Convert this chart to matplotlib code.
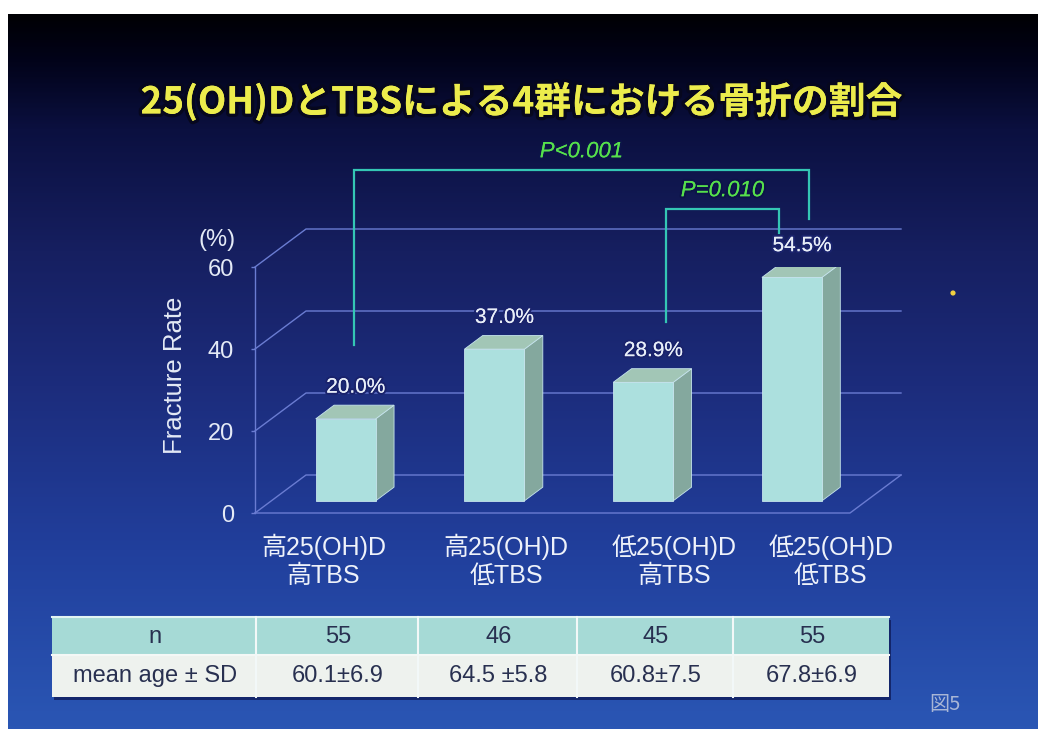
import numpy as np
import matplotlib
matplotlib.use("Agg")
import matplotlib.pyplot as plt
from matplotlib.patches import Polygon, Rectangle
from matplotlib.colors import LinearSegmentedColormap
import matplotlib.patheffects as pe
from matplotlib import font_manager

# ---- data -------------------------------------------------------------
title = "25(OH)DとTBSによる4群における骨折の割合"
groups_line1 = ["高25(OH)D", "高25(OH)D", "低25(OH)D", "低25(OH)D"]
groups_line2 = ["高TBS", "低TBS", "高TBS", "低TBS"]
fracture_rate = [20.0, 37.0, 28.9, 54.5]          # %
y_ticks = [0, 20, 40, 60]
n_subjects = [55, 46, 45, 55]
mean_age = ["60.1±6.9", "64.5 ±5.8", "60.8±7.5", "67.8±6.9"]
comparisons = [(0, 3, "P<0.001"), (2, 3, "P=0.010")]

# ---- fonts ------------------------------------------------------------
_names = {f.name for f in font_manager.fontManager.ttflist}
NARROW = "Liberation Sans Narrow" if "Liberation Sans Narrow" in _names else "Liberation Sans"
CJK = "Noto Sans CJK JP"
FAM = [NARROW, CJK, "DejaVu Sans"]
plt.rcParams["font.family"] = FAM

W_PX, H_PX = 1040, 729
fig = plt.figure(figsize=(W_PX / 100, H_PX / 100), dpi=100, facecolor="white")

# ---- slide background (pixel space) ---------------------------------
bg = fig.add_axes([0, 0, 1, 1])
bg.set_xlim(0, W_PX)
bg.set_ylim(H_PX, 0)
bg.axis("off")

stops = [(0.0, "#000004"), (0.064, "#02031a"), (0.16, "#0b1040"),
         (0.33, "#161f60"), (0.52, "#1c2c7c"), (0.75, "#213f9c"),
         (1.0, "#2a56b4")]
cmap = LinearSegmentedColormap.from_list("slide", stops)
grad = np.linspace(0, 1, 400).reshape(-1, 1)
bg.imshow(grad, cmap=cmap, aspect="auto", extent=(8, 1038, 729, 14),
          origin="upper", zorder=0, interpolation="bilinear")

bg.text(521, 102, title, ha="center", va="center", fontsize=26.5,
        fontweight="bold", color="#ecec4c", family=[CJK, "DejaVu Sans"],
        path_effects=[pe.withStroke(linewidth=5, foreground="#06071e"),
                      pe.Normal()], zorder=5)

# ---- chart axes: front plane of the pseudo-3D box ---------------------
AX_L, AX_R, AX_B, AX_T = 255, 850, 513, 267
cx = fig.add_axes([AX_L / W_PX, 1 - AX_B / H_PX,
                   (AX_R - AX_L) / W_PX, (AX_B - AX_T) / H_PX])
cx.set_xlim(-0.5, 3.5)
cx.set_ylim(0, 60)
cx.patch.set_visible(False)
for s in cx.spines.values():
    s.set_visible(False)

px_x = (AX_R - AX_L) / 4.0     # pixels per category
px_y = (AX_B - AX_T) / 60.0    # pixels per percent
DX, DY = 51 / px_x, 38 / px_y  # box depth in data units
F0, F1 = 0.32, 0.68            # bar front/back depth fractions
BAR_W = 60 / px_x

grid_c = "#6a7cd2"
for t in y_ticks:
    cx.plot([-0.5, -0.5 + DX, 3.5 + DX], [t, t + DY, t + DY], color=grid_c,
            lw=1.0, clip_on=False, zorder=1)
cx.plot([-0.5, 3.5, 3.5 + DX], [0, 0, DY], color=grid_c, lw=1.0,
        clip_on=False, zorder=1)
cx.plot([-0.5, -0.5], [0, 60], color=grid_c, lw=1.0, clip_on=False, zorder=1)

cx.set_yticks(y_ticks)
cx.set_yticklabels([str(t) for t in y_ticks])
cx.tick_params(axis="y", length=3, width=1, color=grid_c, pad=12,
               labelsize=17, labelcolor="#e4eaf6")
cx.set_xticks([])
cx.text(-0.5 - 38 / px_x, 60 + 27 / px_y, "(%)", ha="center", va="center",
        fontsize=17, color="#e4eaf6")
cx.text(-0.5 - 80 / px_x, 33.5, "Fracture Rate", rotation=90, ha="center",
        va="center", fontsize=18.5, color="#e4eaf6")

# bars
front_c, top_c, side_c, edge_c = "#ace0de", "#a2c6b6", "#84a89e", "#c6e4ec"
ddx, ddy = (F1 - F0) * DX, (F1 - F0) * DY
for i, v in enumerate(fracture_rate):
    x0 = i - BAR_W / 2 + F0 * DX
    b = F0 * DY
    cx.add_patch(Polygon([(x0 + BAR_W, b), (x0 + BAR_W, b + v),
                          (x0 + BAR_W + ddx, b + v + ddy),
                          (x0 + BAR_W + ddx, b + ddy)],
                         closed=True, fc=side_c, ec=edge_c, lw=0.6, zorder=3))
    cx.add_patch(Polygon([(x0, b + v), (x0 + BAR_W, b + v),
                          (x0 + BAR_W + ddx, b + v + ddy),
                          (x0 + ddx, b + v + ddy)],
                         closed=True, fc=top_c, ec=edge_c, lw=0.6, zorder=3))
    cx.add_patch(Rectangle((x0, b), BAR_W, v, fc=front_c, ec=edge_c,
                           lw=0.6, zorder=4))
    cx.text(i + 0.52 * DX, v + F1 * DY + 4.4, f"{v:.1f}%", ha="center",
            va="center", fontsize=15, color="#e8eef8", zorder=6,
            path_effects=[pe.withStroke(linewidth=3, foreground="#1a236c"),
                          pe.Normal()])

# category labels
label_nudge = [-0.15, 0.08, 0.21, 0.26]
for i, (l1, l2) in enumerate(zip(groups_line1, groups_line2)):
    xc = i + F0 * DX + label_nudge[i]
    cx.text(xc, -34 / px_y, l1, ha="center", va="center", fontsize=18,
            color="#eef2fa", clip_on=False)
    cx.text(xc, -63 / px_y, l2, ha="center", va="center", fontsize=18,
            color="#eef2fa", clip_on=False)

# significance brackets
bracket_x = [(0.166, 0.224), (0.263, 0.023)]
bracket_top = [83.7, 74.2]
bracket_legs = [(41.0, 71.7), (46.6, 68.3)]
for k, (a, bb, lab) in enumerate(comparisons):
    xa, xb = a + bracket_x[k][0], bb + bracket_x[k][1]
    ya, yb = bracket_legs[k]
    top = bracket_top[k]
    cx.plot([xa, xa, xb, xb], [ya, top, top, yb], color="#34c6b4", lw=1.6,
            clip_on=False, zorder=5, solid_joinstyle="miter")
    cx.text((xa + xb) / 2, top + 4.4, lab, ha="center", va="center",
            fontsize=16, style="italic", color="#56e04c", zorder=6,
            path_effects=[pe.withStroke(linewidth=3, foreground="#0c1448"),
                          pe.Normal()])

# ---- table -------------------------------------------------------------
T_L, T_R, T_TOP, T_MID, T_BOT = 52, 889, 617, 655, 697
col_edges = [T_L, 256, 418, 577, 733, T_R]
bg.add_patch(Rectangle((T_L + 2, T_TOP + 3), T_R - T_L, T_BOT - T_TOP,
                       fc="#0c1650", ec="none", alpha=0.7, zorder=2))
bg.add_patch(Rectangle((T_L, T_TOP), T_R - T_L, T_MID - T_TOP,
                       fc="#a6dad6", ec="none", zorder=3))
bg.add_patch(Rectangle((T_L, T_MID), T_R - T_L, T_BOT - T_MID,
                       fc="#eef2ee", ec="none", zorder=3))
bg.plot([T_L, T_R], [T_TOP, T_TOP], color="#e2f4f2", lw=1.5, zorder=4)
bg.plot([T_L, T_R], [T_MID, T_MID], color="#f4f8f6", lw=1.5, zorder=4)
for xe in col_edges[1:-1]:
    bg.plot([xe, xe], [T_TOP, T_BOT], color="#f2f8f8", lw=1.5, zorder=4)

row1 = ["n"] + [str(n) for n in n_subjects]
row2 = ["mean age ± SD"] + mean_age
for j in range(5):
    xc = (col_edges[j] + col_edges[j + 1]) / 2
    bg.text(xc + 1, (T_TOP + T_MID) / 2 + 1, row1[j], ha="center",
            va="center", fontsize=17, color="#283050", zorder=5)
    bg.text(xc + 1, (T_MID + T_BOT) / 2, row2[j], ha="center",
            va="center", fontsize=17, color="#283050", zorder=5)

bg.text(945, 705, "図5", ha="center", va="center", fontsize=14.5,
        color="#a8b6d6", family=[CJK, "DejaVu Sans"], zorder=5)
bg.scatter([953], [293], s=14, color="#f0d040", edgecolors="none", zorder=5)

fig.savefig("out.png", dpi=100, facecolor="white")
